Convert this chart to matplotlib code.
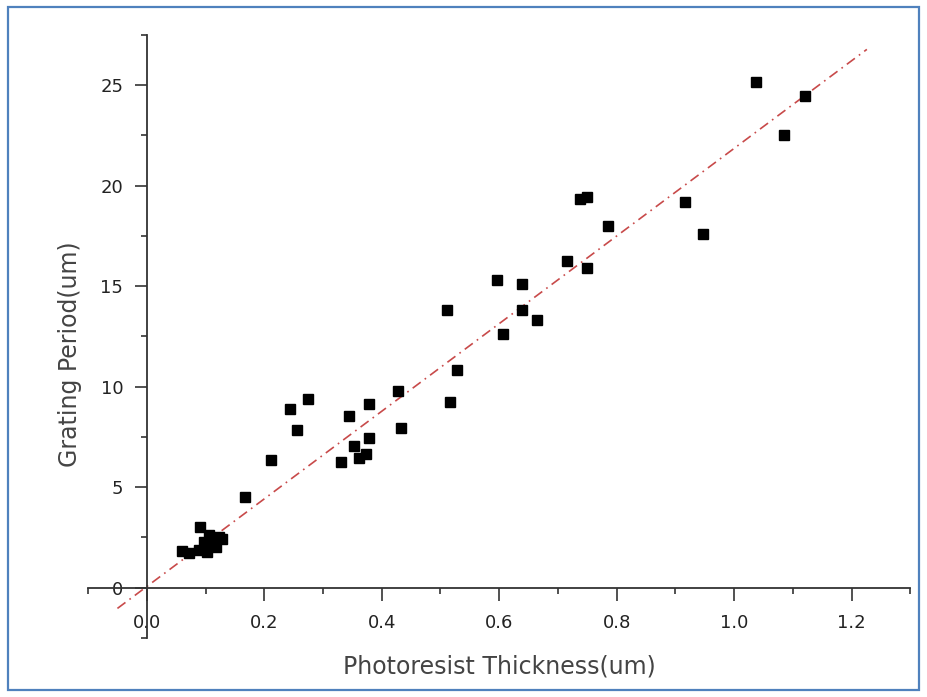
import matplotlib
matplotlib.use("Agg")
import matplotlib.pyplot as plt
from matplotlib.ticker import MultipleLocator, FormatStrFormatter
from matplotlib.patches import Rectangle
import numpy as np

plt.rcParams['font.family'] = ['DejaVu Sans']

# datos
thickness = [0.060, 0.072, 0.089, 0.090, 0.097, 0.103, 0.106, 0.111, 0.118, 0.123, 0.128,
             0.168, 0.212, 0.244, 0.256, 0.275, 0.330, 0.344, 0.352, 0.361, 0.374,
             0.378, 0.378, 0.427, 0.432, 0.511, 0.516, 0.528, 0.596, 0.607, 0.638,
             0.638, 0.665, 0.715, 0.737, 0.750, 0.750, 0.786, 0.916, 0.947, 1.038,
             1.085, 1.120]
period = [1.84, 1.74, 1.89, 3.00, 2.24, 1.79, 2.63, 2.24, 2.04, 2.53, 2.40,
          4.50, 6.36, 8.90, 7.85, 9.40, 6.26, 8.55, 7.06, 6.46, 6.66,
          9.15, 7.45, 9.80, 7.95, 13.80, 9.25, 10.80, 15.30, 12.60, 15.10,
          13.80, 13.30, 16.25, 19.35, 19.45, 15.90, 18.00, 19.20, 17.60, 25.15,
          22.50, 24.45]

# recta de ajuste
fit_slope = 21.8
fit_intercept = 0.05
fit_x = [-0.05, 1.226]

fig = plt.figure(figsize=(9.27, 6.97), dpi=100)
ax = fig.add_axes([0.095, 0.085, 0.887, 0.865])

xs = np.array(fit_x)
ax.plot(xs, fit_slope * xs + fit_intercept, color="#c84a4a", linewidth=1.2,
        linestyle=(0, (6, 3, 1, 3)), zorder=2)
ax.plot(thickness, period, linestyle="none", marker="s", markersize=7.5,
        color="black", zorder=3)

ax.set_xlim(-0.1, 1.3)
ax.set_ylim(-2.5, 27.5)

for s in ["top", "right"]:
    ax.spines[s].set_visible(False)
ax.spines["left"].set_position(("data", 0))
ax.spines["bottom"].set_position(("data", 0))
for s in ["left", "bottom"]:
    ax.spines[s].set_color("#333333")
    ax.spines[s].set_linewidth(1.3)

ax.xaxis.set_major_locator(MultipleLocator(0.2))
ax.xaxis.set_minor_locator(MultipleLocator(0.1))
ax.xaxis.set_major_formatter(FormatStrFormatter("%.1f"))
ax.yaxis.set_major_locator(MultipleLocator(5))
ax.yaxis.set_minor_locator(MultipleLocator(2.5))

ax.tick_params(which="major", direction="out", length=9, width=1.2,
               color="#333333", labelsize=13, labelcolor="#222222", pad=8)
ax.tick_params(axis="x", which="major", pad=10)
ax.tick_params(which="minor", direction="out", length=4, width=1.2, color="#333333")

ax.set_xlabel("Photoresist Thickness(um)", fontsize=17, color="#444444")
ax.set_ylabel("Grating Period(um)", fontsize=17, color="#444444")
ax.xaxis.set_label_coords(0.5, -0.028)
ax.yaxis.set_label_coords(-0.007, 0.47)

# marco azul
fig.patches.append(Rectangle((0.009, 0.01), 0.982, 0.98, transform=fig.transFigure,
                             fill=False, edgecolor="#4f81bd", linewidth=1.6))

fig.savefig("out.png", dpi=100)
